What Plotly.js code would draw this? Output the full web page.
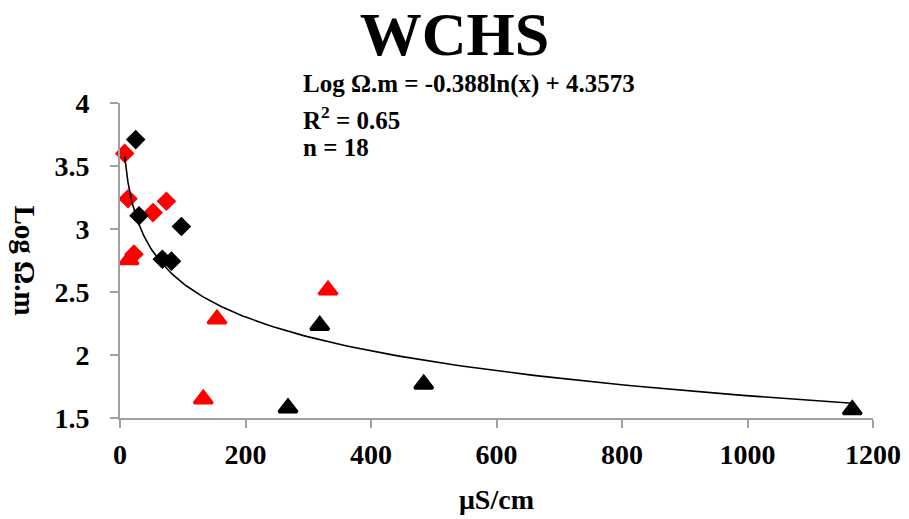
<!DOCTYPE html>
<html>
<head>
<meta charset="utf-8">
<script src="https://cdn.plot.ly/plotly-3.0.1.min.js"></script>
<style>html,body{margin:0;padding:0;background:#fff;}#chart{width:909px;height:519px;}</style>
</head>
<body>
<div id="chart"></div>
<script>
// Data
var redDiamondX = [7.5, 12.8, 22.3, 52.6, 74];
var redDiamondY = [3.60, 3.24, 2.80, 3.13, 3.22];
var blackDiamondX = [25, 30.3, 67.5, 82, 97.8];
var blackDiamondY = [3.71, 3.105, 2.76, 2.745, 3.02];
var redTriangleX = [14.4, 132.7, 154.5, 331.5];
var redTriangleY = [2.755, 1.65, 2.285, 2.515];
var blackTriangleX = [267.7, 318.3, 484, 1167];
var blackTriangleY = [1.58, 2.235, 1.768, 1.565];

// Logarithmic trendline shown on the chart: y = a ln(x) + b
var trendA = -0.388;
var trendB = 4.3573;
var xTickVals = [0, 200, 400, 600, 800, 1000, 1200];
var yTickVals = [1.5, 2, 2.5, 3, 3.5, 4];

var allX = redDiamondX.concat(blackDiamondX, redTriangleX, blackTriangleX);
var xMin = Math.min.apply(null, allX), xMax = Math.max.apply(null, allX);
var trendX = [], trendY = [];
for (var i = 0; i <= 200; i++) {
  var x = xMin * Math.pow(xMax / xMin, i / 200);
  trendX.push(x);
  trendY.push(trendA * Math.log(x) + trendB);
}

var serif = '"Liberation Serif", "Times New Roman", serif';

function pts(x, y, sym, color, size, lw) {
  return {x: x, y: y, type: 'scatter', mode: 'markers', cliponaxis: false, hoverinfo: 'skip',
    marker: {symbol: sym, color: color, size: size, line: {color: color, width: lw}}};
}

var traces = [
  pts(redDiamondX, redDiamondY, 'diamond', '#ff0000', 13.5, 1.5),
  pts(blackDiamondX, blackDiamondY, 'diamond', '#000000', 13.5, 1.5),
  pts(redTriangleX, redTriangleY, 'triangle-up', '#ff0000', 16, 3),
  pts(blackTriangleX, blackTriangleY, 'triangle-up', '#000000', 16, 3),
  {x: trendX, y: trendY, type: 'scatter', mode: 'lines', cliponaxis: false, hoverinfo: 'skip',
   line: {color: '#000000', width: 1.6}}
];

var axisCommon = {
  showgrid: false, zeroline: false, showline: true, linecolor: '#a0a0a0', linewidth: 2,
  ticks: 'outside', ticklen: 8, tickwidth: 2, tickcolor: '#a0a0a0',
  tickfont: {family: serif, size: 28, color: '#000', weight: 'bold'}
};

var layout = {
  width: 909, height: 519,
  paper_bgcolor: '#ffffff', plot_bgcolor: '#ffffff',
  showlegend: false,
  margin: {l: 120, r: 36, t: 103, b: 101, pad: 0},
  title: {text: 'WCHS', font: {family: serif, size: 62, color: '#000', weight: 'bold'},
          x: 0.5, xanchor: 'center', xref: 'container', y: 1 - 33 / 519, yanchor: 'middle', yref: 'container'},
  xaxis: Object.assign({}, axisCommon, {range: [0, 1200], tickvals: xTickVals, ticklabelstandoff: 2}),
  yaxis: Object.assign({}, axisCommon, {range: [1.5, 4], tickvals: yTickVals, ticklabelstandoff: 15}),
  annotations: [
    {text: 'Log Ω.m = -0.388ln(x) + 4.3573', xref: 'paper', yref: 'paper', x: 0.240, y: (418 - 84) / 315.3,
     xanchor: 'left', yanchor: 'middle', showarrow: false, font: {family: serif, size: 25, color: '#000', weight: 'bold'}},
    {text: 'R<sup>2</sup> = 0.65', xref: 'paper', yref: 'paper', x: 0.240, y: (418 - 118) / 315.3,
     xanchor: 'left', yanchor: 'middle', showarrow: false, font: {family: serif, size: 25, color: '#000', weight: 'bold'}},
    {text: 'n = 18', xref: 'paper', yref: 'paper', x: 0.240, y: (418 - 147) / 315.3,
     xanchor: 'left', yanchor: 'middle', showarrow: false, font: {family: serif, size: 25, color: '#000', weight: 'bold'}},
    {text: 'μS/cm', xref: 'paper', yref: 'paper', x: (497 - 120.3) / 753, y: (418 - 500) / 315.3,
     xanchor: 'center', yanchor: 'middle', showarrow: false, font: {family: serif, size: 28, color: '#000', weight: 'bold'}},
    {text: 'Log Ω.m', xref: 'paper', yref: 'paper', x: (25 - 120.3) / 753, y: (418 - 260) / 315.3,
     xanchor: 'center', yanchor: 'middle', textangle: 90, showarrow: false, font: {family: serif, size: 29, color: '#000', weight: 'bold'}}
  ]
};

Plotly.newPlot('chart', traces, layout, {displayModeBar: false, staticPlot: true});
</script>
</body>
</html>
